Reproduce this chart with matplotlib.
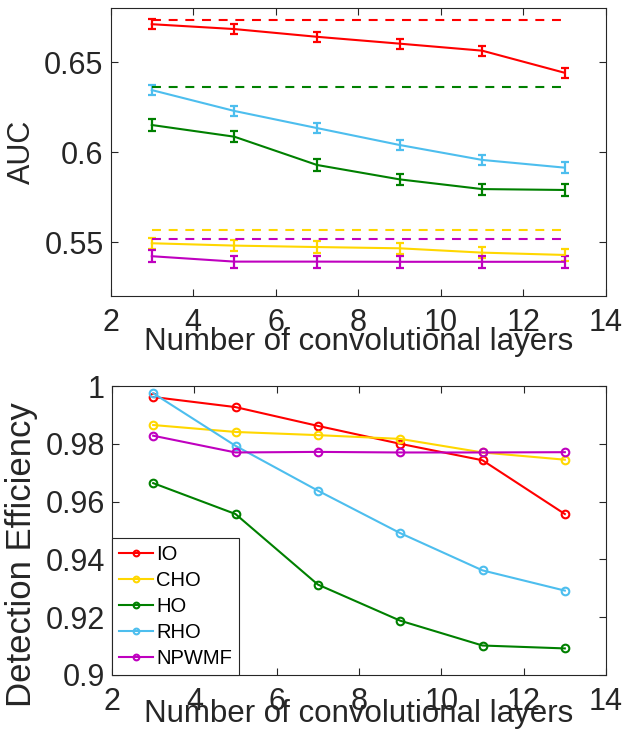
import matplotlib
matplotlib.use("Agg")
import matplotlib.pyplot as plt
import numpy as np

plt.rcParams['font.family'] = ['Liberation Sans', 'DejaVu Sans']

layers = [3, 5, 7, 9, 11, 13]
names = ["IO", "CHO", "HO", "RHO", "NPWMF"]
colors = ["#FF0000", "#FFD700", "#008000", "#4DBEEE", "#BF00BF"]

# AUC values (top panel)
auc_io = [0.671, 0.6683, 0.664, 0.6602, 0.6563, 0.644]
auc_cho = [0.5493, 0.548, 0.5472, 0.5465, 0.5441, 0.5428]
auc_ho = [0.615, 0.6085, 0.5928, 0.5848, 0.5794, 0.5789]
auc_rho = [0.6344, 0.6228, 0.6133, 0.6039, 0.5956, 0.5913]
auc_npwmf = [0.5421, 0.5391, 0.5391, 0.539, 0.539, 0.539]
auc_err = [0.0028, 0.0031, 0.0031, 0.003, 0.0033]
# Reference (dashed) AUC levels
ref_io = 0.6735
ref_cho = 0.5567
ref_ho = 0.6361
ref_npwmf = 0.5517

# Detection efficiency (bottom panel)
de_io = [0.9962, 0.9927, 0.9862, 0.980, 0.9743, 0.9557]
de_cho = [0.9865, 0.9841, 0.9830, 0.9817, 0.9770, 0.9745]
de_ho = [0.9664, 0.9557, 0.9313, 0.9188, 0.9102, 0.9092]
de_rho = [0.9975, 0.9793, 0.9638, 0.9491, 0.9362, 0.9292]
de_npwmf = [0.9828, 0.9770, 0.9772, 0.9770, 0.9770, 0.9771]

fig = plt.figure(figsize=(6.25, 7.49), dpi=100)
W, H = 625, 749
ax1 = fig.add_axes([110.5 / W, 1 - 296 / H, (606 - 110.5) / W, (296 - 8) / H])
ax2 = fig.add_axes([112 / W, 1 - 675 / H, (606 - 112) / W, (675 - 386) / H])

auc = [auc_io, auc_cho, auc_ho, auc_rho, auc_npwmf]
for vals, err, c in zip(auc, auc_err, colors):
    ax1.errorbar(layers, vals, yerr=err, color=c, lw=1.5, capsize=3,
                 capthick=1.6, elinewidth=1.6)
for ref, c in zip([ref_io, ref_ho, ref_cho, ref_npwmf],
                  [colors[0], colors[2], colors[1], colors[4]]):
    ax1.plot([layers[0], layers[-1]], [ref, ref], color=c, lw=1.5,
             ls=(0, (4.3, 3.7)))

de = [de_io, de_cho, de_ho, de_rho, de_npwmf]
for vals, c, n in zip(de, colors, names):
    ax2.plot(layers, vals, color=c, lw=1.5, marker='o', ms=5.5,
             mfc='none', mew=1.5, label=n)

ax1.set_xlim(2, 14)
ax1.set_ylim(0.52, 0.68)
ax1.set_yticks([0.55, 0.6, 0.65])
ax1.set_yticklabels(["0.55", "0.6", "0.65"])
ax1.set_xticks([2, 4, 6, 8, 10, 12, 14])
ax1.set_ylabel("AUC", fontsize=22)
ax1.set_xlabel("Number of convolutional layers", fontsize=22.5)
ax1.yaxis.set_label_coords(-0.148, 0.5)
ax1.xaxis.set_label_coords(0.5, -0.106)

ax2.set_xlim(2, 14)
ax2.set_ylim(0.9, 1.0)
ax2.set_yticks([0.9, 0.92, 0.94, 0.96, 0.98, 1.0])
ax2.set_yticklabels(["0.9", "0.92", "0.94", "0.96", "0.98", "1"])
ax2.set_xticks([2, 4, 6, 8, 10, 12, 14])
ax2.set_ylabel("Detection Efficiency", fontsize=25)
ax2.set_xlabel("Number of convolutional layers", fontsize=22.5)
ax2.yaxis.set_label_coords(-0.150, 0.415)
ax2.xaxis.set_label_coords(0.5, -0.082)

for ax in (ax1, ax2):
    ax.tick_params(direction='in', top=True, right=True, length=5,
                   width=0.8, color='#262626', labelsize=22,
                   labelcolor='#262626')
    ax.tick_params(axis='x', pad=8.5)
    ax.tick_params(axis='y', pad=5)
    for s in ax.spines.values():
        s.set_color('#262626')
        s.set_linewidth(0.8)
    ax.xaxis.label.set_color('#262626')
    ax.yaxis.label.set_color('#262626')

leg = ax2.legend(loc='lower left', bbox_to_anchor=(0.0, 0.0), fontsize=14.5,
                 frameon=True, fancybox=False, edgecolor='#262626',
                 handlelength=1.7, handletextpad=0.15, borderpad=0.35,
                 labelspacing=0.35, borderaxespad=0.0, markerscale=0.75)
leg.get_frame().set_linewidth(0.8)
leg.get_frame().set_alpha(1)

fig.savefig("out.png", dpi=100)
